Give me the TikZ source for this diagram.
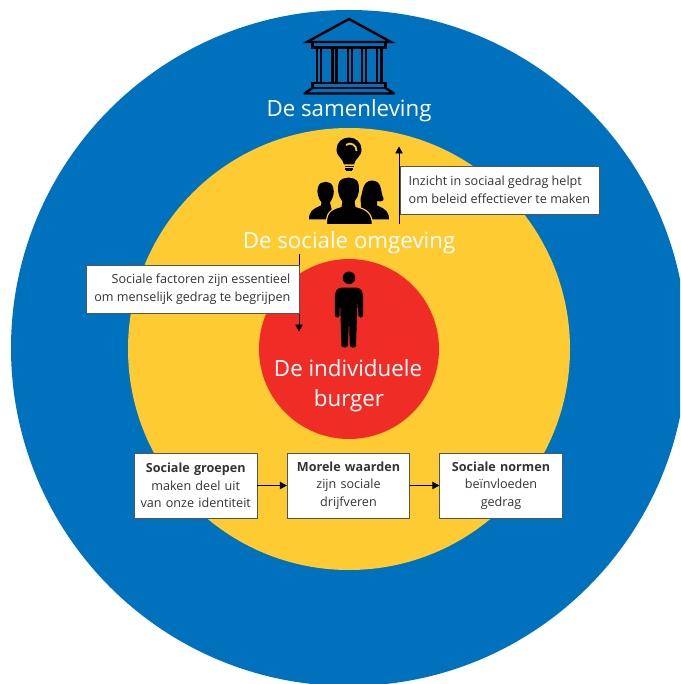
\documentclass[tikz,border=0pt]{standalone}
\usepackage{fontspec}
\setmainfont{Open Sans}
\usetikzlibrary{arrows.meta}
\definecolor{rblue}{HTML}{0071BC}
\definecolor{ryellow}{HTML}{FFCB32}
\definecolor{rred}{HTML}{F02C27}
\definecolor{rtext}{HTML}{333333}
\definecolor{rframe}{HTML}{555555}
\tikzset{
  boxfont/.style={font=\fontsize{12.6}{17.5}\selectfont},
  infobox/.style={draw=rframe,line width=0.8pt,fill=white,text=rtext,boxfont,inner sep=0pt,anchor=north west},
  plaintext/.style={text=rtext,boxfont,inner sep=0pt},
  title/.style={text=white,font=\fontsize{22.3}{30}\selectfont,align=center,inner sep=0pt},
  flow/.style={-{Triangle[length=7pt,width=7.500pt]},line width=0.9pt,black},
  iconline/.style={draw=black,line width=2.400pt,line join=miter},
}
\begin{document}
\begin{tikzpicture}[x=1pt,y=-1pt]
\useasboundingbox (0,0) rectangle (680,684);
\begin{scope}
\clip (0,0) rectangle (680,684);
\fill[white] (0,0) rectangle (680,684);
\fill[rblue] (349,348) circle[radius=338];
\fill[ryellow] (349,349) circle[radius=221];
\fill[rred] (349,349) circle[radius=90];
\end{scope}
% building
\draw[iconline] (349,19) -- (391,42) -- (307,42) -- cycle;
\draw[iconline] (312.500,42) rectangle (385.500,47.500);
\foreach \a/\b in {317/321,332.500/336.500,348/352,362/366,377/381.500}{\fill[black] (\a-1.200,47) rectangle (\a+1.200,83);\fill[black] (\b-1.200,47) rectangle (\b+1.200,83);}
\draw[iconline] (312.500,83) rectangle (385.500,88);
\draw[iconline,line join=round] (312.500,88) -- (304.500,93.500) -- (394,93.500) -- (385.500,88);
% bulb
\fill[black] (344,164.500) .. controls (343,158) and (336.500,157) .. (336.500,149.500) .. controls (336.500,142.500) and (342,137.500) .. (349,137.500) .. controls (356,137.500) and (361.500,142.500) .. (361.500,149.500) .. controls (361.500,157) and (355,158) .. (354,164.500) -- cycle;
\draw[ryellow,line width=1.800pt] (346,145) .. controls (350,141.500) and (357,145) .. (356.500,151);
\draw[black,line width=1.600pt] (344.500,166.500) -- (353.500,166.500) (345,169) -- (353,169);
\fill[black] (346,170) rectangle (352,171.500);
% people
\fill[black] (309,219.500) .. controls (309,212) and (312,209) .. (321,205.500) -- (321.500,202.500) .. controls (318,198) and (316.500,192) .. (318,187) .. controls (320,180) and (331,180) .. (333,187) .. controls (335,193) and (333,198) .. (330,202.500) -- (334,219.500) -- cycle;
\fill[black] (389,219.500) .. controls (389,212) and (386,209) .. (377,205.500) -- (377,201) .. controls (381,202) and (384,201) .. (383.500,198.500) .. controls (380,192) and (383,181) .. (372,180.500) .. controls (362,181) and (363,192) .. (360.500,198.500) -- (362,219.500) -- cycle;
\fill[black,draw=ryellow,line width=1.200pt] (326.500,224.800) .. controls (326,213) and (330,209.500) .. (341,206.500) -- (341.500,201.500) .. controls (337,196) and (336,187) .. (338.500,181.500) .. controls (342,175.500) and (355,175.500) .. (358.500,181.500) .. controls (361,187) and (360,196) .. (355.500,201.500) -- (356,206.500) .. controls (367,209.500) and (372,213) .. (372.500,224.800) -- cycle;
% person
\fill[black] (349,277.800) circle[radius=6.300];
\fill[black] (342,287.500) -- (356,287.500) .. controls (361,288) and (363,291) .. (363,297) -- (363,316) .. controls (362,318.500) and (359,318.500) .. (358.500,316) -- (357.500,300) -- (356,346.500) .. controls (353.500,348.500) and (351,347.500) .. (349.800,346) -- (349,319) -- (348,346) .. controls (346.500,347.500) and (343.500,348.500) .. (341.500,346.500) -- (340,300) -- (339.500,316) .. controls (339,318.500) and (336,318.500) .. (335,316) -- (334.800,297) .. controls (335,291) and (337,288) .. (342,287.500) -- cycle;
% titles
\node[title] (samen) at (349,110.500) {De samenleving};
\node[title] (omg) at (349,242.500) {De sociale omgeving};
\node[title] (ind) at (348,385.500) {De individuele\\\hspace*{2pt}burger};
% top box
\coordinate (upstart) at (399,224.500);
\coordinate (uptip) at (399,146.500);
\draw[flow] (upstart) -- (uptip);
\node[infobox,minimum width=199pt,minimum height=48pt] (inzicht) at (400,166) {};
\node[plaintext,align=left,anchor=west] (inzichtt) at (408.500,190) {Inzicht in sociaal gedrag helpt\\om beleid effectiever te maken};
% left box
\coordinate (downstart) at (299,254);
\coordinate (downtip) at (299,331.500);
\draw[flow] (downstart) -- (downtip);
\node[infobox,minimum width=213pt,minimum height=48pt] (factoren) at (86,265) {};
\node[plaintext,align=right,anchor=east] (factorent) at (290.500,289) {Sociale factoren zijn essentieel\\om menselijk gedrag te begrijpen};
% bottom boxes
\tikzset{flowbox/.style={infobox,minimum width=122.500pt,minimum height=65pt,align=center,anchor=center,text width=120pt}}
\node[flowbox] (groepen) at (195.750,485.500) {\textbf{Sociale groepen}\\maken deel uit\\van onze identiteit};
\node[flowbox] (waarden) at (348.500,485.500) {\textbf{Morele waarden}\\zijn sociale\\drijfveren};
\node[flowbox] (normen) at (501,485.500) {\textbf{Sociale normen}\\beïnvloeden\\gedrag};
\draw[flow] (groepen) -- (waarden);
\draw[flow] (waarden) -- (normen);
\end{tikzpicture}
\end{document}
